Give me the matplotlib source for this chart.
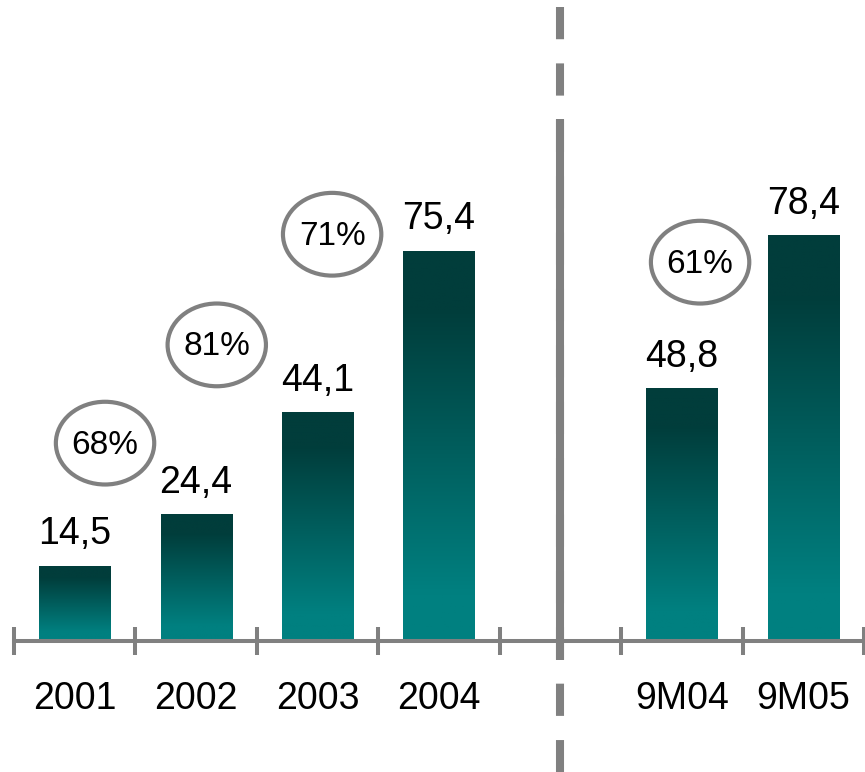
import matplotlib.pyplot as plt
import numpy as np
from matplotlib.colors import LinearSegmentedColormap
from matplotlib.patches import Ellipse

plt.rcParams['font.family'] = ['Liberation Sans', 'DejaVu Sans']

# Data: yearly values and nine-month values, one empty slot between them
categories = ["2001", "2002", "2003", "2004", "", "9M04", "9M05"]
values = [14.5, 24.4, 44.1, 75.4, None, 48.8, 78.4]
value_labels = ["14,5", "24,4", "44,1", "75,4", "", "48,8", "78,4"]
pct_labels = ["68%", "81%", "71%", "61%"]

# where the percentage bubbles sit (x in slots, y in value units)
pct_pos = [(0.25, 38.3), (1.17, 57.3), (2.12, 78.7), (5.15, 73.3)]

GRAY = "#808080"
teal = LinearSegmentedColormap.from_list(
    "teal", [(0.0, "#008080"), (0.12, "#008080"), (0.85, "#013d3b"), (1.0, "#013d3b")])

fig = plt.figure(figsize=(8.65, 7.72), dpi=100)
ax = fig.add_axes([0, 0, 1, 1])
ax.set_xlim(-0.615, 6.508)
ax.set_ylim(-25.3, 124.0)

bar_w = 0.585
grad = np.linspace(0, 1, 256).reshape(-1, 1)
for i, (v, lab) in enumerate(zip(values, value_labels)):
    if v is None:
        continue
    ax.imshow(grad, cmap=teal, origin="lower", aspect="auto",
              extent=[i - bar_w / 2, i + bar_w / 2, 0, v], zorder=2)
    ax.text(i, v + 4.25, lab, ha="center", va="baseline", fontsize=27, color="black")

for (x, y), lab in zip(pct_pos, pct_labels):
    ax.add_patch(Ellipse((x, y), 0.81, 16.0, fill=False, edgecolor=GRAY, lw=3, zorder=3))
    ax.text(x, y - 0.4, lab, ha="center", va="center", fontsize=24, color="black")

# divider between full years and nine-month figures
ax.plot([4, 4], [122.6, -25.3], color=GRAY, lw=5.8, dashes=(4, 3), solid_capstyle="butt")
ax.plot([4, 4], [101.0, -3.7], color=GRAY, lw=5.8, solid_capstyle="butt")

# category axis
for s in ["top", "left", "right"]:
    ax.spines[s].set_visible(False)
ax.spines["bottom"].set_position(("data", 0))
ax.spines["bottom"].set_color(GRAY)
ax.spines["bottom"].set_linewidth(2.9)
ax.spines["bottom"].set_bounds(-0.5, 6.5)
ax.spines["bottom"].set_zorder(4)
ax.yaxis.set_visible(False)

ax.set_xticks(np.arange(-0.5, 7, 1))
ax.set_xticklabels([])
ax.set_xticks(np.arange(len(categories)), minor=True)
ax.set_xticklabels(categories, minor=True)
ax.tick_params(axis="x", which="major", direction="inout", length=20, width=2.9, color=GRAY)
ax.tick_params(axis="x", which="minor", length=0, pad=29, labelsize=27)

ax.set_facecolor("white")
fig.savefig("out.png", dpi=100)
